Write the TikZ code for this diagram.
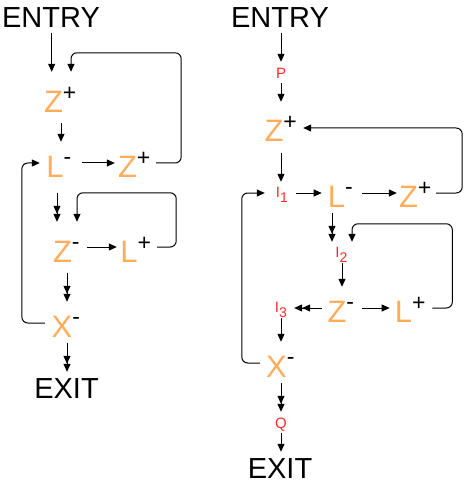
\documentclass[tikz,border=0pt]{standalone}
\usepackage{fontspec}
\setmainfont{Liberation Sans}
\usetikzlibrary{arrows.meta,calc}
\definecolor{orng}{HTML}{FFAD5B}
\definecolor{redl}{HTML}{FF2A2A}
\newcommand\spp{\rlap{\raisebox{12pt}{\fontsize{23}{23}\selectfont\color{black}+}}}
\newcommand\smm{\rlap{\raisebox{13pt}{\fontsize{23}{23}\selectfont\color{black}-}}}
\newcommand\isub[1]{I\rlap{\raisebox{-5pt}{\fontsize{14}{14}\selectfont #1}}}
\tikzset{
  ltr/.style={inner sep=0pt, anchor=base, text=orng, font=\fontsize{31}{31}\selectfont, text height=22pt, text depth=0pt},
  bigtxt/.style={inner sep=0pt, anchor=base, text=black, font=\fontsize{29}{29}\selectfont, text height=21pt, text depth=0pt},
  redtxt/.style={inner sep=0pt, anchor=base, text=redl, font=\fontsize{15}{15}\selectfont, text height=11pt, text depth=0pt},
  arr/.style={line width=1pt, -{Triangle[length=8pt,width=7pt]}},
  darr/.style={line width=1pt, -{Triangle[length=8pt,width=7pt]Triangle[length=8pt,width=7pt]}},
  loop/.style={arr, rounded corners=6pt}
}
\begin{document}
\begin{tikzpicture}[x=1pt,y=-1pt]
\useasboundingbox (0,0) rectangle (469,486);
% left diagram
\node[bigtxt] (entryL) at (51,28) {ENTRY};
\node[ltr] (z1L) at (53.5,113) {Z\spp};
\node[ltr] (l1L) at (55,178) {L\smm};
\node[ltr] (z2L) at (127.5,178) {Z\spp};
\node[ltr] (zmL) at (62.5,262) {Z\smm};
\node[ltr] (lpL) at (129,262) {L\spp};
\node[ltr] (xL) at (62,337) {X\smm};
\node[bigtxt] (exitL) at (66.5,398) {EXIT};
\draw[arr] ($(entryL.south)+(0.7,5)$) -- ($(z1L.north)+(-1.8,-19)$);
\draw[loop] ($(z2L.east)+(19,-4)$) -- ++(25,0) |- ($(z1L.north)+(17.5,-38)$) -- ($(z1L.north)+(17.5,-19)$);
\draw[arr] ($(z1L.south)+(7.5,10)$) -- ($(l1L.north)+(6,-14)$);
\draw[arr] ($(l1L.east)+(18.4,-4)$) -- ($(z2L.west)+(-3,-4)$);
\draw[darr] ($(l1L.south)+(2,15)$) -- ($(zmL.north)+(-5.5,-18)$);
\draw[loop] ($(lpL.east)+(19.4,-4)$) -- ++(19,0) |- ($(zmL.north)+(14.5,-47)$) -- ($(zmL.north)+(14.5,-18)$);
\draw[arr] ($(zmL.east)+(15,-4)$) -- ($(lpL.west)+(-3.4,-4)$);
\draw[darr] ($(zmL.south)+(4.5,11)$) -- ($(xL.north)+(5,-13)$);
\draw[loop] ($(xL.west)+(-6.6,-3)$) -- ++(-23,0) |- ($(l1L.west)+(-6.4,-4)$);
\draw[darr] ($(xL.south)+(5,6)$) -- ($(exitL.north)+(0.5,-5)$);
% right diagram
\node[bigtxt] (entryR) at (280,28) {ENTRY};
\node[redtxt] (pR) at (281,79) {P};
\node[ltr] (z1R) at (274,142) {Z\spp};
\node[redtxt, text height=10pt] (i1R) at (278,197) {\isub{1}};
\node[ltr] (l1R) at (336.5,207) {L\smm};
\node[ltr] (z2R) at (408.5,207) {Z\spp};
\node[redtxt] (i2R) at (337.5,257) {\isub{2}};
\node[ltr] (zmR) at (337,322) {Z\smm};
\node[ltr] (lpR) at (403.5,322) {L\spp};
\node[redtxt, text height=10pt] (i3R) at (277,312) {\isub{3}};
\node[ltr] (xR) at (276.5,377) {X\smm};
\node[redtxt] (qR) at (281,428) {Q};
\node[bigtxt] (exitR) at (280,478) {EXIT};
\draw[arr] ($(entryR.south)+(1,5)$) -- ($(pR.north)+(0,-6)$);
\draw[arr] ($(pR.south)+(0,4)$) -- ($(z1R.north)+(7,-18)$);
\draw[loop] ($(z2R.east)+(18,-3)$) -- ++(26,0) |- ($(z1R.east)+(19.5,-3)$);
\draw[arr] ($(z1R.south)+(7,11)$) -- ($(i1R.north)+(3,-5)$);
\draw[loop] ($(xR.west)+(-6.2,-3)$) -- ++(-18,0) |- ($(i1R.west)+(-10.9,1)$);
\draw[arr] ($(i1R.east)+(16,1)$) -- ($(l1R.west)+(-6,-3)$);
\draw[arr] ($(l1R.east)+(17,-3)$) -- ($(z2R.west)+(-2,-3)$);
\draw[darr] ($(l1R.south)+(-4.5,6)$) -- ($(i2R.north)+(-5.5,-4)$);
\draw[loop] ($(lpR.east)+(20,-3)$) -- ++(20,0) |- ($(i2R.north)+(14.5,-22)$) -- ($(i2R.north)+(14.5,-4)$);
\draw[arr] ($(i2R.south)+(4.5,6)$) -- ($(zmR.north)+(5,-13)$);
\draw[arr] ($(zmR.east)+(15.5,-3)$) -- ($(lpR.west)+(-5,-3)$);
\draw[darr] ($(zmR.west)+(-5.5,-3)$) -- ($(i3R.east)+(14.9,1)$);
\draw[arr] ($(i3R.south)+(4,6)$) -- ($(xR.north)+(4.5,-13)$);
\draw[darr] ($(xR.south)+(4.5,6)$) -- ($(qR.north)+(0,-5)$);
\draw[arr] ($(qR.south)+(0,5)$) -- ($(exitR.north)+(1,-5)$);
\end{tikzpicture}
\end{document}
